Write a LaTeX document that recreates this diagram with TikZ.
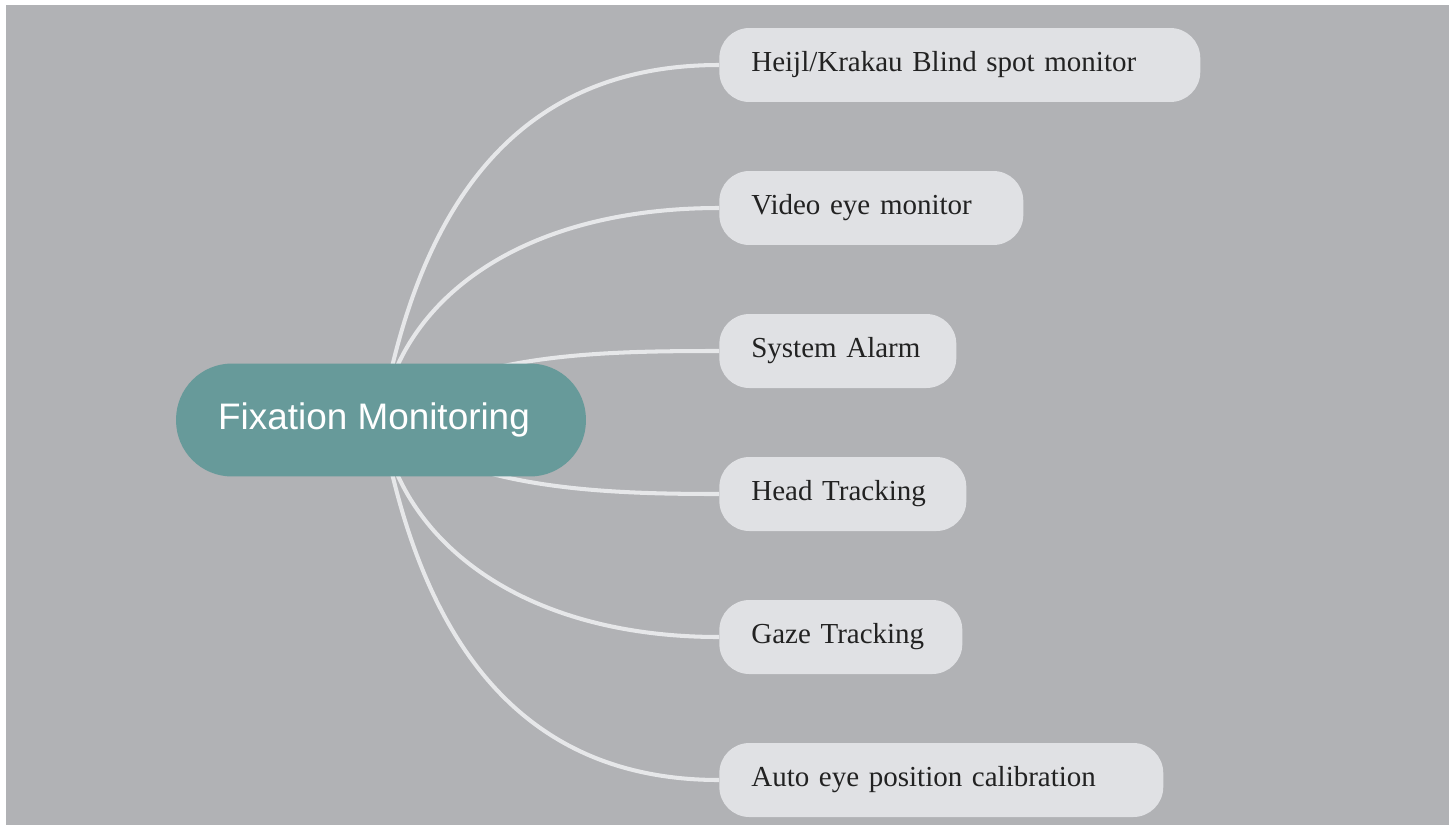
\documentclass[tikz,border=0pt]{standalone}
\usepackage{fontspec}
\setmainfont{Liberation Serif}
\newfontfamily\rootfont{Liberation Sans}
\newcommand\leaffont{\fontsize{16.5}{20}\selectfont}
\definecolor{paper}{HTML}{B1B2B5}
\definecolor{teal}{HTML}{679A9A}
\definecolor{leafgray}{HTML}{E0E1E4}
\definecolor{linegray}{HTML}{E6E7E9}
\definecolor{inkgray}{HTML}{222222}
\pgfdeclarelayer{bg}
\pgfdeclarelayer{lines}
\pgfsetlayers{bg,lines,main}
\tikzset{
  rootnode/.style={fill=teal, text=white, rounded corners=1.12cm, minimum width=8.2cm,
    minimum height=2.26cm, font=\rootfont\fontsize{21}{24}\selectfont},
  leafnode/.style={fill=leafgray, text=inkgray, rounded corners=0.6cm, anchor=west,
    inner xsep=0.64cm, minimum height=1.48cm, text width=#1, font=\leaffont},
  branch/.style={draw=linegray, line width=2.3pt}
}
\begin{document}
\begin{tikzpicture}[x=0.02cm, y=-0.02cm]
\useasboundingbox (0,0) rectangle (1449,825);
\begin{pgfonlayer}{bg}
\fill[white] (0,0) rectangle (1449,825);
\fill[paper] (6,5) rectangle (1449,825);
\end{pgfonlayer}
\node[rootnode] (root) at (381,420) {\hspace*{-0.28cm}Fixation Monitoring};
\node[leafnode=8.34cm] (heijl) at (719,65) {\mbox{Heijl/Krakau Blind spot monitor}};
\node[leafnode=4.8cm] (video) at (719,208) {\mbox{Video eye monitor}};
\node[leafnode=3.46cm] (alarm) at (719,351) {\mbox{System Alarm}};
\node[leafnode=3.66cm] (head) at (719,494) {\mbox{Head Tracking}};
\node[leafnode=3.58cm] (gaze) at (719,637) {\mbox{Gaze Tracking}};
\node[leafnode=7.6cm] (auto) at (719,780) {\mbox{Auto eye position calibration}};
\begin{pgfonlayer}{lines}
\draw[branch] (root.center) .. controls (420,200) and (520,65) .. (heijl.west);
\draw[branch] (root.center) .. controls (400,300) and (520,208) .. (video.west);
\draw[branch] (root.center) .. controls (460,353) and (600,351) .. (alarm.west);
\draw[branch] (root.center) .. controls (460,489) and (600,494) .. (head.west);
\draw[branch] (root.center) .. controls (400,540) and (520,637) .. (gaze.west);
\draw[branch] (root.center) .. controls (420,640) and (520,780) .. (auto.west);
\end{pgfonlayer}
\end{tikzpicture}
\end{document}
